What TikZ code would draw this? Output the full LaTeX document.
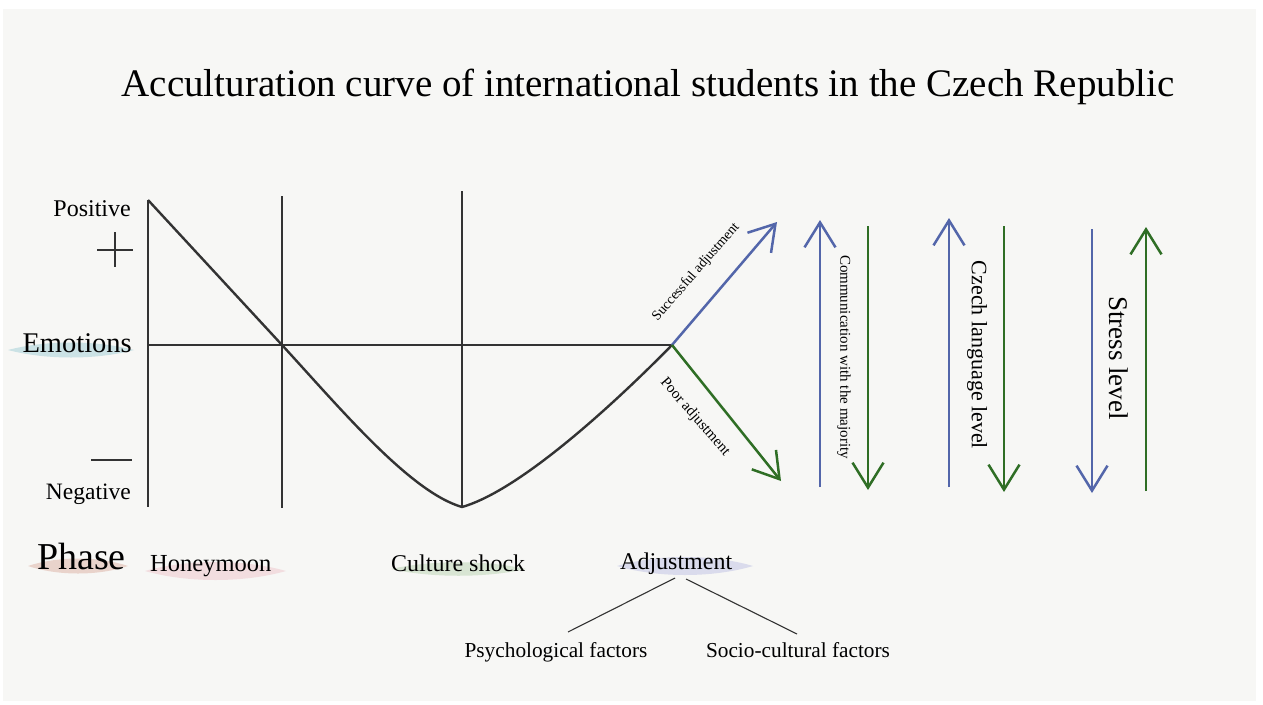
\documentclass[tikz,border=0pt]{standalone}
\usepackage{fontspec}
\setmainfont{Liberation Serif}
\usetikzlibrary{arrows.meta}
\definecolor{paper}{HTML}{F7F7F5}
\definecolor{ink}{HTML}{333333}
\definecolor{upblue}{HTML}{5366AA}
\definecolor{downgreen}{HTML}{2F6E25}
\definecolor{hlteal}{HTML}{CBE2E5}
\definecolor{hlsand}{HTML}{E9D3CB}
\definecolor{hlpink}{HTML}{F2DDDF}
\definecolor{hlgreen}{HTML}{D8E5D3}
\definecolor{hllilac}{HTML}{DADBEC}
% soft lens-shaped marker stroke: colour, x-left, x-right, y-centre, bulge
\newcommand\lens[5]{\fill[#1] (#2,#4) .. controls ({#2+(#3-#2)*0.3},{#4-#5}) and ({#3-(#3-#2)*0.3},{#4-#5}) .. (#3,#4) .. controls ({#3-(#3-#2)*0.3},{#4+#5}) and ({#2+(#3-#2)*0.3},{#4+#5}) .. cycle;}
\tikzset{
  axisline/.style={draw=ink, line width=2.4pt},
  trendarrow/.style={line width=2.5pt, -{Straight Barb[length=25pt,width=31pt]}},
  factorline/.style={draw=ink, line width=1.1pt},
  lbl/.style={inner sep=0pt, text=black},
}
\begin{document}
\begin{tikzpicture}[x=1pt,y=-1pt]
\fill[white] (0,0) rectangle (1263,704);
\fill[paper] (3,9) rectangle (1256,701);
\useasboundingbox (0,0) rectangle (1263,704);

% title
\node[lbl, anchor=base, font=\fontsize{39}{39}\selectfont] (title) at (648,96)
  {Acculturation curve of international students in the Czech Republic};

% marker highlights behind the labels
\lens{hlteal}{8}{134}{350}{10}
\lens{hlsand}{28}{128}{566}{10}
\lens{hlpink}{145}{286}{571}{12}
\lens{hlgreen}{391}{526}{569}{9}
\lens{hllilac}{617}{753}{566}{12}

% axis frame
\coordinate (top) at (148,200);
\coordinate (bot) at (148,507);
\coordinate (left) at (148,345);
\coordinate (cross) at (282,345);
\coordinate (low) at (462,507);
\coordinate (fork) at (672,345);
\coordinate (h1) at (282,196);
\coordinate (h1b) at (282,508);
\coordinate (c1) at (462,191);
\coordinate (c1b) at (462,507);

\draw[axisline] (top) -- (bot);
\draw[axisline] (left) -- (fork);
\draw[axisline] (h1) -- (h1b);
\draw[axisline] (c1) -- (c1b);

% emotion curve
\draw[axisline, line join=round] (top) -- (cross)
  .. controls (340,408) and (410,492) .. (low)
  .. controls (522,490) and (620,398) .. (fork);

% plus and minus signs
\draw[ink, line width=2.2pt] (97,250) -- (133,250) (115,232) -- (115,267);
\draw[ink, line width=2.2pt] (91,460) -- (132,460);

% axis labels
\node[lbl, anchor=base east, font=\fontsize{24}{24}\selectfont] (pos) at (131,216) {Positive};
\node[lbl, anchor=base east, font=\fontsize{23.5}{24}\selectfont] (neg) at (131,499) {Negative};
\node[lbl, anchor=base east, font=\fontsize{28.5}{29}\selectfont] (emo) at (132,352) {Emotions};

% phases
\node[lbl, anchor=base west, font=\fontsize{38}{38}\selectfont] (phase) at (37,569) {Phase};
\node[lbl, anchor=base west, font=\fontsize{24.5}{25}\selectfont] (honey) at (150,571) {Honeymoon};
\node[lbl, anchor=base west, font=\fontsize{24}{24}\selectfont] (shock) at (391,571) {Culture shock};
\node[lbl, anchor=base west, font=\fontsize{24}{24}\selectfont] (adj) at (620,569) {Adjustment};

% adjustment factors
\node[lbl, anchor=base, font=\fontsize{21.3}{22}\selectfont] (psy) at (556,657) {Psychological factors};
\node[lbl, anchor=base, font=\fontsize{21.3}{22}\selectfont] (soc) at (798,657) {Socio-cultural factors};
\coordinate (adjL) at (675,578);
\coordinate (adjR) at (686,579);
\coordinate (psyT) at (568,632);
\coordinate (socT) at (797,634);
\draw[factorline] (adjL) -- (psyT);
\draw[factorline] (adjR) -- (socT);

% outcome branches
\coordinate (goodTip) at (777,222);
\coordinate (poorTip) at (781,481);
\draw[trendarrow, upblue] (fork) -- (goodTip);
\draw[trendarrow, downgreen] (fork) -- (poorTip);
\node[lbl, rotate=49, font=\fontsize{14}{14}\selectfont] (good) at (696,272) {Successful adjustment};
\node[lbl, rotate=-49, font=\fontsize{15}{15}\selectfont] (poor) at (695,417) {Poor adjustment};

% trend indicators
\coordinate (comU0) at (820,487);  \coordinate (comU1) at (820,220);
\coordinate (comD0) at (868,226);  \coordinate (comD1) at (868,490);
\coordinate (czU0) at (949,487);   \coordinate (czU1) at (949,218);
\coordinate (czD0) at (1004,226);  \coordinate (czD1) at (1004,492);
\coordinate (stD0) at (1092,229);  \coordinate (stD1) at (1092,493);
\coordinate (stU0) at (1146,491);  \coordinate (stU1) at (1146,227);
\draw[trendarrow, upblue] (comU0) -- (comU1);
\draw[trendarrow, downgreen] (comD0) -- (comD1);
\draw[trendarrow, upblue] (czU0) -- (czU1);
\draw[trendarrow, downgreen] (czD0) -- (czD1);
\draw[trendarrow, upblue] (stD0) -- (stD1);
\draw[trendarrow, downgreen] (stU0) -- (stU1);

\node[lbl, rotate=-90, font=\fontsize{15}{15}\selectfont] (com) at (844,357) {Communication with the majority};
\node[lbl, rotate=-90, font=\fontsize{22}{22}\selectfont] (cz) at (977,355) {Czech language level};
\node[lbl, rotate=-90, font=\fontsize{27}{27}\selectfont] (st) at (1119,358) {Stress level};
\end{tikzpicture}
\end{document}
